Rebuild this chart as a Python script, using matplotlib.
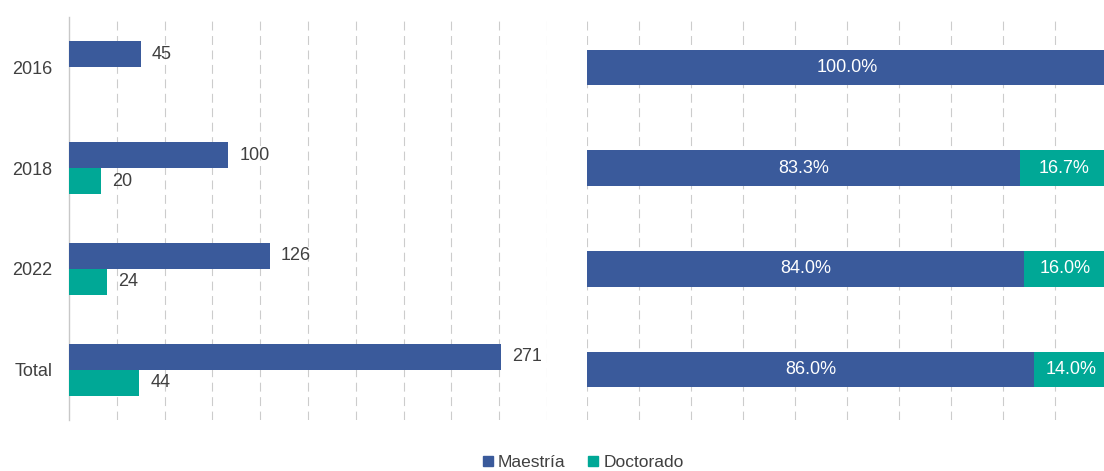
import matplotlib
matplotlib.use("Agg")
import matplotlib.pyplot as plt
from matplotlib.lines import Line2D
import numpy as np

BLUE = "#3A5A9B"
TEAL = "#00A896"
GRID = "#CCCCCC"
TXT = "#404040"
FAM = "Liberation Sans"
FS = 13

categories = ["2016", "2018", "2022", "Total"]
maestria = [45, 100, 126, 271]
doctorado = [0, 20, 24, 44]

fig = plt.figure(figsize=(11.04, 4.71), dpi=100)
plt.rcParams["font.family"] = [FAM, "DejaVu Sans"]

y = np.arange(len(categories))
dash = (0, (8, 5))

# left panel: counts
axl = fig.add_axes([69 / 1104, 51 / 471, 478 / 1104, 403 / 471])
h = 0.258
axl.barh(y - h / 2, maestria, height=h, color=BLUE, zorder=3)
doc = np.array(doctorado)
axl.barh(y[doc > 0] + h / 2, doc[doc > 0], height=h, color=TEAL, zorder=3)
for yi, v in zip(y, maestria):
    axl.text(v + 7, yi - h / 2, str(v), va="center", ha="left",
             fontsize=FS, color=TXT)
for yi, v in zip(y, doctorado):
    if v > 0:
        axl.text(v + 7, yi + h / 2, str(v), va="center", ha="left",
                 fontsize=FS, color=TXT)
axl.set_xlim(0, 300)
axl.set_ylim(3.5, -0.5)
axl.set_xticks(np.arange(30, 301, 30))
axl.grid(axis="x", color=GRID, linestyle=dash, linewidth=0.8, zorder=0)
axl.set_yticks(y)
axl.set_yticklabels(categories, fontsize=FS, color=TXT)
axl.tick_params(axis="y", length=0, pad=12)
axl.tick_params(axis="x", length=0, labelbottom=False)
for s in ["top", "right", "bottom"]:
    axl.spines[s].set_visible(False)
axl.spines["left"].set_color("#C8C8C8")
axl.spines["left"].set_linewidth(1.0)

# right panel: shares
tot = np.array(maestria) + np.array(doctorado)
share_m = np.array(maestria) / tot
share_d = np.array(doctorado) / tot
axr = fig.add_axes([587 / 1104, 51 / 471, 520 / 1104, 403 / 471])
hr = 0.35
axr.barh(y, share_m, height=hr, color=BLUE, zorder=3)
axr.barh(y, share_d, left=share_m, height=hr, color=TEAL, zorder=3)
for yi, m, d in zip(y, share_m, share_d):
    axr.text(m / 2, yi, f"{m * 100:.1f}%", va="center", ha="center",
             fontsize=FS, color="white", zorder=4)
    if d > 0:
        axr.text(m + d / 2, yi, f"{d * 100:.1f}%", va="center", ha="center",
                 fontsize=FS, color="white", zorder=4)
axr.set_xlim(0, 1)
axr.set_ylim(3.5, -0.5)
axr.set_xticks(np.arange(0, 1.01, 0.1))
axr.grid(axis="x", color=GRID, linestyle=dash, linewidth=0.8, zorder=0)
axr.set_yticks([])
axr.tick_params(axis="x", length=0, labelbottom=False)
for s in axr.spines.values():
    s.set_visible(False)

handles = [Line2D([], [], marker="s", linestyle="none", markersize=7,
                  color=BLUE, label="Maestría"),
           Line2D([], [], marker="s", linestyle="none", markersize=7,
                  color=TEAL, label="Doctorado")]
fig.legend(handles=handles, loc="center", bbox_to_anchor=(0.526, 0.018),
           ncol=2, frameon=False, fontsize=12.5, handletextpad=0.0,
           handlelength=1.2, columnspacing=1.0, labelcolor=TXT)

fig.savefig("out.png", dpi=100)
plt.close(fig)
